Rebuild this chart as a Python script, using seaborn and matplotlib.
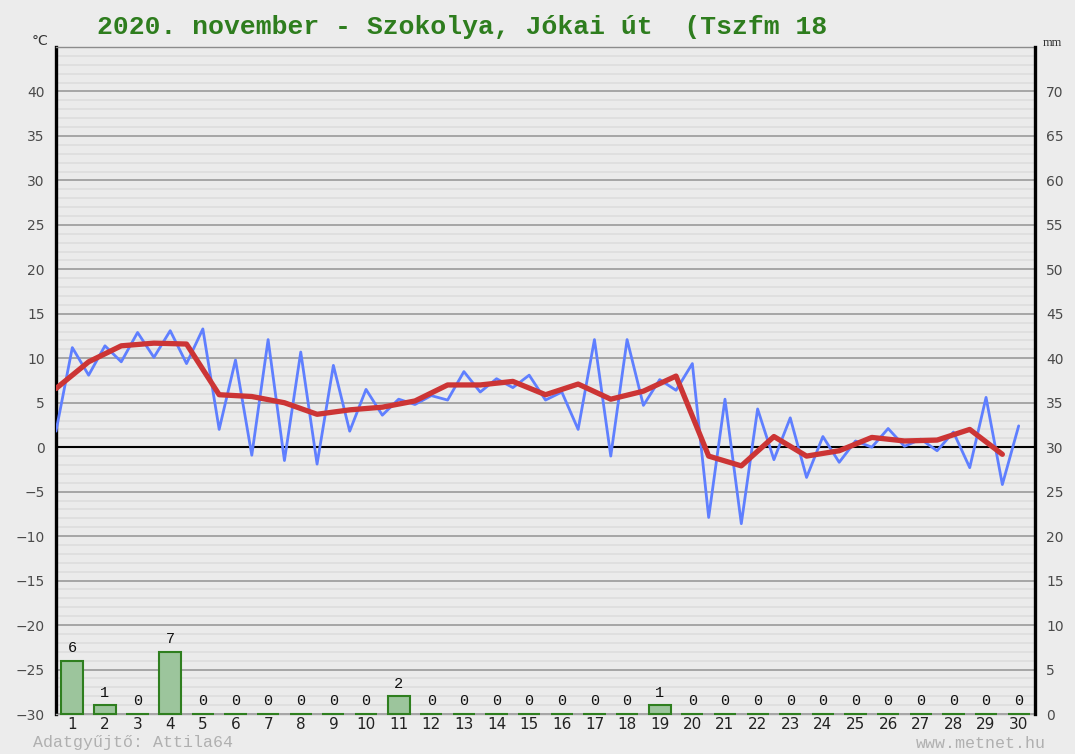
import numpy as np
import matplotlib
matplotlib.use("Agg")
import matplotlib.pyplot as plt
import seaborn as sns

# half-daily temperature readings (day 0.5 .. 30)
temp_times = np.arange(0.5, 30.01, 0.5)
temp_values = [1.8, 11.2, 8.1, 11.4, 9.6, 12.9, 10.1, 13.1, 9.4, 13.3,
               2.0, 9.8, -0.9, 12.1, -1.5, 10.7, -1.9, 9.2, 1.8, 6.5,
               3.6, 5.4, 4.8, 5.8, 5.3, 8.5, 6.2, 7.7, 6.7, 8.1,
               5.3, 6.2, 2.0, 12.1, -1.0, 12.1, 4.7, 7.6, 6.4, 9.4,
               -7.9, 5.4, -8.6, 4.3, -1.4, 3.3, -3.4, 1.2, -1.7, 0.7,
               0.0, 2.1, 0.1, 0.9, -0.4, 1.7, -2.3, 5.6, -4.2, 2.4]

# daily mean temperature (plotted at day 0.5 .. 29.5)
mean_times = np.arange(0.5, 29.51, 1.0)
mean_values = [6.6, 9.6, 11.4, 11.7, 11.6, 5.9, 5.7, 5.0, 3.7, 4.2,
               4.5, 5.2, 7.0, 7.0, 7.4, 5.9, 7.1, 5.4, 6.3, 8.0,
               -1.0, -2.1, 1.2, -1.0, -0.4, 1.1, 0.7, 0.8, 2.0, -0.8]

# daily precipitation, mm
days = list(range(1, 31))
precip = [6, 1, 0, 7, 0, 0, 0, 0, 0, 0, 2, 0, 0, 0, 0,
          0, 0, 0, 1, 0, 0, 0, 0, 0, 0, 0, 0, 0, 0, 0]

title = "2020. november - Szokolya, Jókai út  (Tszfm 18"

sns.set_style("white")
plt.rcParams['font.family'] = ['DejaVu Sans']
mono = ['Liberation Mono', 'DejaVu Sans Mono']

bg = "#ececec"
fig = plt.figure(figsize=(10.75, 7.54), dpi=100, facecolor=bg)
ax = fig.add_axes([56 / 1075, 1 - 714 / 754, (1035 - 56) / 1075, (714 - 47) / 754])
ax.set_facecolor("#ebebeb")

ax.set_xlim(0.5, 30.5)
ax.set_ylim(-30, 45)
ax.set_yticks(range(-30, 41, 5))
ax.set_yticks(range(-30, 46, 1), minor=True)
ax.grid(which='minor', axis='y', color='#dcdcdc', linewidth=1.1)
ax.grid(which='major', axis='y', color='#a6a6a6', linewidth=1.4)
ax.set_axisbelow(True)
ax.axhline(0, color='black', linewidth=1.5, zorder=2)

sns.lineplot(x=temp_times, y=temp_values, ax=ax, color='#5f7fff',
             linewidth=2.0, zorder=3)
sns.lineplot(x=mean_times, y=mean_values, ax=ax, color='#cc3535',
             linewidth=3.8, zorder=4)

ax.set_xticks(days)
ax.set_xticklabels([str(d) for d in days], fontsize=11, color='#222222')
ax.tick_params(axis='x', length=0, pad=2)
ax.tick_params(axis='y', which='both', length=0, pad=8, labelsize=10,
               labelcolor='#4a4a4a')
ax.set_xlabel('')
ax.set_ylabel('')

ax.spines['left'].set_color('black')
ax.spines['left'].set_linewidth(2.4)
ax.spines['top'].set_color('#8c8c8c')
ax.spines['top'].set_linewidth(1.0)
ax.spines['bottom'].set_color('#a6a6a6')
ax.spines['bottom'].set_linewidth(1.0)
ax.spines['right'].set_visible(False)

# precipitation on the right axis
ax2 = ax.twinx()
ax2.set_ylim(0, 75)
sns.barplot(x=days, y=precip, ax=ax2, native_scale=True, width=0.68,
            color='#9cc59c', saturation=1, edgecolor='#2f7f1f',
            linewidth=1.5, errorbar=None)
for p in ax2.patches:
    p.set_clip_on(False)
ax2.set_xlim(0.5, 30.5)
ax2.set_yticks(range(0, 71, 5))
ax2.tick_params(axis='y', length=0, pad=8, labelsize=10, labelcolor='#4a4a4a')
ax2.set_xlabel('')
ax2.set_ylabel('')
for side in ['top', 'bottom', 'left']:
    ax2.spines[side].set_visible(False)
ax2.spines['right'].set_color('black')
ax2.spines['right'].set_linewidth(2.4)

for d, v in zip(days, precip):
    ax2.annotate(str(v), (d, v), xytext=(0, 4), textcoords='offset points',
                 ha='center', va='bottom', fontsize=11, color='#111111',
                 family=mono)

fig.text(97 / 1075, 1 - 27 / 754, title, ha='left', va='center',
         fontsize=19, fontweight='bold', color='#2e7d1e', family=mono)
fig.text(40 / 1075, 1 - 41 / 754, '°C', ha='center', va='center',
         fontsize=10, color='#333333')
fig.text(1052 / 1075, 1 - 43 / 754, 'mm', ha='center', va='center',
         fontsize=9, color='#333333', family=['Liberation Serif'])
fig.text(33 / 1075, 1 - 743 / 754, 'Adatgyűjtő: Attila64', ha='left',
         va='center', fontsize=12, color='#b0b0b0', family=mono)
fig.text(1046 / 1075, 1 - 743 / 754, 'www.metnet.hu', ha='right',
         va='center', fontsize=12, color='#b0b0b0', family=mono)

fig.savefig('out.png', dpi=100, facecolor=bg)
